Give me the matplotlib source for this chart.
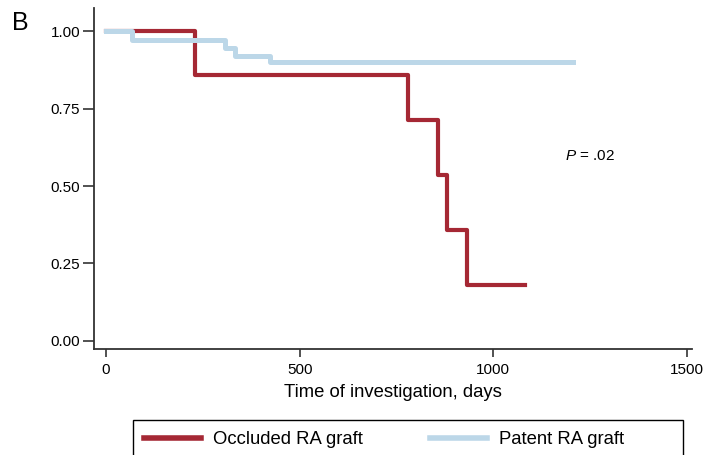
import numpy as np
import matplotlib
matplotlib.use("Agg")
from matplotlib import pyplot as plt
from matplotlib.patches import Rectangle

plt.rcParams['font.family'] = ['Liberation Sans', 'DejaVu Sans']
plt.rcParams['mathtext.fontset'] = 'custom'
plt.rcParams['mathtext.it'] = 'Liberation Sans:italic'
plt.rcParams['mathtext.rm'] = 'Liberation Sans'

# Kaplan-Meier step data
occ_days = [0, 231, 781, 856, 880, 933, 1082]
occ_surv = [1.0, 0.857, 0.714, 0.536, 0.357, 0.179, 0.179]
pat_days = [0, 67, 308, 334, 424, 1205]
pat_surv = [1.0, 0.971, 0.945, 0.920, 0.900, 0.900]

xticks = [0, 500, 1000, 1500]
yticks = [0.0, 0.25, 0.50, 0.75, 1.0]

red = '#a52834'
blue = '#bcd7e8'

fig = plt.figure(figsize=(7.07, 4.55), dpi=100)
ax = fig.add_axes([94 / 707, 0.233, 598 / 707, 0.749])

l1, = ax.step(occ_days, occ_surv, where='post', color=red, lw=3.0, label='Occluded RA graft', zorder=2)
l2, = ax.step(pat_days, pat_surv, where='post', color=blue, lw=3.6, label='Patent RA graft', zorder=3)

ax.set_xlim(-31, 1513)
ax.set_ylim(-0.026, 1.074)
ax.set_xticks(xticks)
ax.set_xticklabels([str(v) for v in xticks], fontsize=11)
ax.set_yticks(yticks)
ax.set_yticklabels(['%.2f' % v for v in yticks], fontsize=11)
ax.tick_params(axis='y', length=8, width=1.2, color='#333333', pad=2)
ax.tick_params(axis='x', length=6, width=1.2, color='#333333', pad=4)
for s in ['top', 'right']:
    ax.spines[s].set_visible(False)
for s in ['left', 'bottom']:
    ax.spines[s].set_linewidth(1.3)
    ax.spines[s].set_color('#333333')

ax.set_xlabel('Time of investigation, days', fontsize=13.3, labelpad=5)

ax.text(1185, 0.598, r'$\mathit{P}$ = .02', fontsize=11, ha='left', va='center')

fig.text(0.017, 0.95, 'B', fontsize=18, ha='left', va='center')

leg = fig.legend(handles=[l1, l2], loc='upper left', ncol=2,
                 bbox_to_anchor=(133 / 707, 1 - 420 / 455),
                 borderaxespad=0, fontsize=13.3, frameon=False,
                 handlelength=3.1, borderpad=0.6,
                 columnspacing=3.6, handletextpad=0.65)
for h in leg.legend_handles:
    h.set_linewidth(4)

box = Rectangle((133 / 707, -0.05), 550 / 707, 0.05 + 35 / 455,
                transform=fig.transFigure, fill=False, edgecolor='black',
                lw=1.0, clip_on=False)
fig.patches.append(box)

fig.savefig('out.png', dpi=100)
